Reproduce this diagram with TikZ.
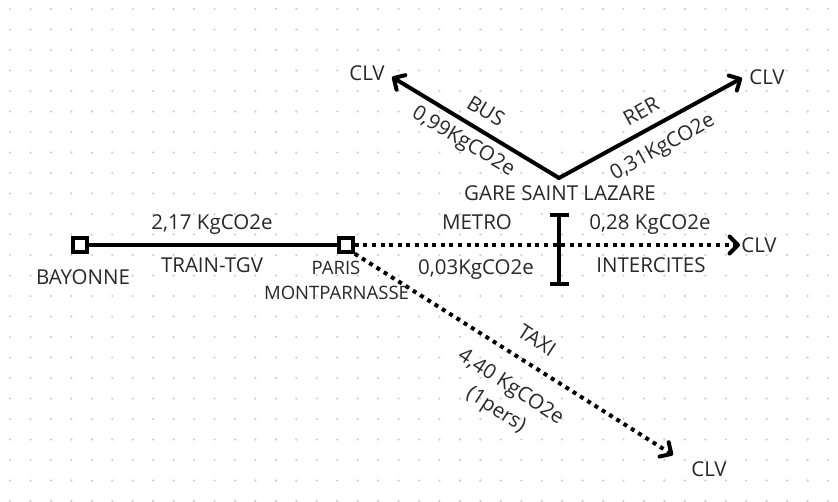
\documentclass[tikz,border=0pt]{standalone}
\usepackage{fontspec}
\setmainfont{Open Sans}
\usetikzlibrary{arrows.meta}
\definecolor{txt}{RGB}{40,40,40}
\definecolor{griddot}{RGB}{200,205,218}
\begin{document}
\begin{tikzpicture}[x=1pt,y=-1pt,
  lbl/.style={font=\fontsize{20.5}{27}\selectfont, text=txt, inner sep=0pt, align=center},
  smalllbl/.style={lbl, font=\fontsize{18.5}{24}\selectfont},
  sq/.style={draw=black, fill=white, line width=3.5pt, minimum size=14pt, inner sep=0pt},
  solidedge/.style={line width=4pt, line cap=round, line join=round},
  dotedge/.style={line width=4pt, dash pattern=on 4pt off 4.6pt},
  arr/.style={-{Straight Barb[length=8.5pt,width=17pt,line cap=round,line join=round]}}
]
\useasboundingbox (0,0) rectangle (838,501);
\fill[white] (0,0) rectangle (838,501);
% dot grid
\foreach \i in {0,...,40}{
  \foreach \j in {0,...,24}{
    \fill[griddot] ({10+20.45*\i},{9+20.5*\j}) circle (1.2pt);
  }
}
% coordinates
\coordinate (gsl) at (559,178);
\coordinate (tipA) at (392,77);
\coordinate (tipB) at (742,78);
\coordinate (tipC) at (740,245);
\coordinate (tipD) at (673,455);
\coordinate (barT) at (559,213);
\coordinate (barB) at (559,286);
% stations
\node[sq] (bay) at (80,245) {};
\node[sq] (par) at (346,245) {};
% connectors
\draw[solidedge] (bay) -- (par);
\draw[solidedge, arr] (gsl) -- (tipA);
\draw[solidedge, arr] (gsl) -- (tipB);
\draw[dotedge, arr] (par.east) -- (tipC);
\draw[dotedge, arr] (par.south east) -- (tipD);
\draw[line width=4pt, {Bar[width=19pt]}-{Bar[width=19pt]}] (barT) -- (barB);
% labels
\node[lbl] (lbay) at (83,277) {BAYONNE};
\node[smalllbl] (lparis) at (336,268) {PARIS};
\node[smalllbl] (lmont) at (336.5,293) {MONTPARNASSE};
\node[lbl] (ltgvco) at (212,225) {2,17 KgCO2e};
\node[lbl] (ltgv) at (212,265) {TRAIN-TGV};
\node[lbl] (lgsl) at (560,193) {GARE SAINT LAZARE};
\node[lbl] (clvA) at (367,73) {CLV};
\node[lbl] (clvB) at (767,77) {CLV};
\node[lbl] (clvC) at (759,245) {CLV};
\node[lbl] (clvD) at (709,469) {CLV};
\node[lbl, rotate=-31] (lbus) at (486,111) {BUS};
\node[lbl, rotate=-31] (lbusco) at (463,142) {0,99KgCO2e};
\node[lbl, rotate=29] (lrer) at (641,111) {RER};
\node[lbl, rotate=29] (lrerco) at (663,148) {0,31KgCO2e};
\node[lbl] (lmetro) at (477,222) {METRO};
\node[lbl] (lmetroco) at (476,270) {0,03KgCO2e};
\node[lbl] (linterco) at (650,225) {0,28 KgCO2e};
\node[lbl] (linter) at (651,265) {INTERCITES};
\node[lbl, rotate=-33] (ltaxi) at (537,340) {TAXI};
\node[lbl, rotate=-33] (ltaxico) at (503,399) {4,40 KgCO2e\\(1pers)};
\end{tikzpicture}
\end{document}
